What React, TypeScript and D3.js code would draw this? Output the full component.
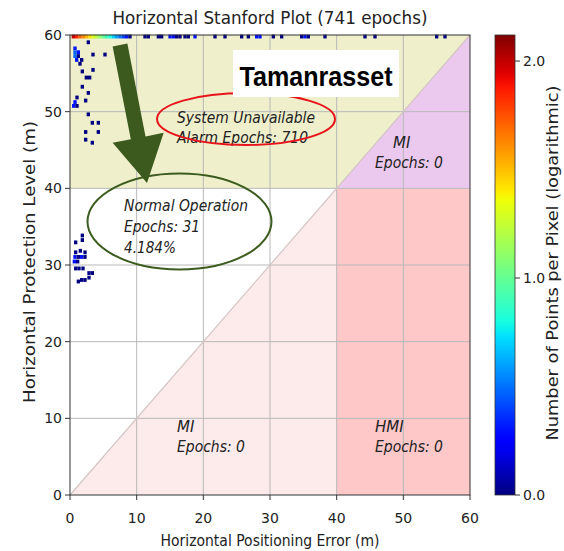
import React from "react";
import * as d3 from "d3";

// Axis ticks
const xTicks = [0, 10, 20, 30, 40, 50, 60];
const yTicks = [0, 10, 20, 30, 40, 50, 60];
const cbTicks = [0, 1, 2];
const cbMax = 2.12;
const binSize = 0.5;

// Histogram cells: [HPE bin start, HPL bin start, log10(count)]
// HPL clipped at the top of the plot
const topRowCells: [number, number, number][] = [
  [0.25, 59.55, 1.98], [0.75, 59.55, 1.85], [1.25, 59.55, 1.72], [1.75, 59.55, 1.62],
  [2.25, 59.55, 1.52], [2.75, 59.55, 1.42], [3.25, 59.55, 1.3], [3.75, 59.55, 1.2],
  [4.25, 59.55, 1.1], [4.75, 59.55, 1.0], [5.25, 59.55, 0.9], [5.75, 59.55, 0.8],
  [6.25, 59.55, 0.7], [6.75, 59.55, 0.6], [7.25, 59.55, 0.5], [7.75, 59.55, 0.4],
  [8.25, 59.55, 0.3], [8.75, 59.55, 0.0],
  [11.0, 59.55, 0.0], [11.5, 59.55, 0.0], [13.0, 59.55, 0.0], [13.5, 59.55, 0.0],
  [14.75, 59.55, 0.3], [15.25, 59.55, 0.3], [15.75, 59.55, 0.0], [16.25, 59.55, 0.0],
  [17.0, 59.55, 0.0], [17.5, 59.55, 0.0], [18.5, 59.55, 0.3],
  [21.5, 59.55, 0.0], [23.0, 59.55, 0.0], [25.5, 59.55, 0.0], [26.5, 59.55, 0.0],
  [27.75, 59.55, 0.3], [28.25, 59.55, 0.3], [30.25, 59.55, 0.0], [31.5, 59.55, 0.0],
  [34.5, 59.55, 0.0], [35.0, 59.55, 0.3], [35.5, 59.55, 0.0], [38.0, 59.55, 0.0],
  [44.0, 59.55, 0.0], [45.5, 59.55, 0.0], [54.75, 59.55, 0.0], [56.0, 59.55, 0.0],
];

// Alarm region cells (HPL above the alert limit)
const alarmCells: [number, number, number][] = [
  [0.5, 58.0, 0.3], [0.5, 57.5, 0.48], [1.0, 57.5, 0.3], [0.5, 57.0, 0.48],
  [1.0, 57.0, 0.0], [1.5, 56.5, 0.0], [0.75, 56.5, 0.3], [1.25, 56.0, 0.0],
  [2.5, 58.8, 0.0], [3.2, 57.2, 0.0], [5.0, 57.2, 0.0],
  [3.2, 55.2, 0.0], [1.6, 55.0, 0.0], [2.2, 54.2, 0.0], [2.7, 54.2, 0.0],
  [1.6, 53.0, 0.0], [2.5, 52.2, 0.0], [0.8, 51.6, 0.0], [2.1, 51.2, 0.0],
  [0.5, 51.0, 0.3], [0.3, 50.5, 0.3], [0.8, 50.5, 0.0],
  [2.5, 49.4, 0.0], [3.1, 48.3, 0.0], [4.0, 48.3, 0.0],
  [2.1, 47.1, 0.0], [4.0, 47.1, 0.0], [2.1, 46.1, 0.0], [3.1, 45.7, 0.0],
];

// Normal operation cells
const normalCells: [number, number, number][] = [
  [1.6, 33.6, 0.0], [1.6, 33.0, 0.0], [0.6, 32.7, 0.0],
  [1.3, 31.6, 0.0], [0.6, 31.4, 0.0], [2.0, 31.4, 0.0],
  [0.5, 30.8, 0.3], [1.0, 30.8, 0.0], [1.5, 30.8, 0.3], [2.0, 30.8, 0.0],
  [0.4, 30.2, 0.3], [0.9, 30.2, 0.0],
  [0.6, 29.3, 0.0], [1.1, 29.3, 0.0], [1.7, 29.3, 0.0],
  [2.6, 28.7, 0.0], [3.1, 28.7, 0.0],
  [1.5, 27.8, 0.0], [2.0, 27.8, 0.0], [2.6, 28.1, 0.0], [1.0, 27.6, 0.0],
];

// matplotlib "jet" colormap
function jet(t: number): string {
  const c = Math.max(0, Math.min(1, t));
  const interp = (pts: [number, number][]) => {
    for (let i = 1; i < pts.length; i++) {
      if (c <= pts[i][0]) {
        const [x0, y0] = pts[i - 1];
        const [x1, y1] = pts[i];
        return y0 + ((c - x0) / (x1 - x0)) * (y1 - y0);
      }
    }
    return pts[pts.length - 1][1];
  };
  const r = interp([[0, 0], [0.35, 0], [0.66, 1], [0.89, 1], [1, 0.5]]);
  const g = interp([[0, 0], [0.125, 0], [0.375, 1], [0.64, 1], [0.91, 0], [1, 0]]);
  const b = interp([[0, 0.5], [0.11, 1], [0.34, 1], [0.65, 0], [1, 0]]);
  return d3.rgb(r * 255, g * 255, b * 255).formatHex();
}

const W = 564;
const H = 551;
const x = d3.scaleLinear().domain([0, 60]).range([70, 470]);
const y = d3.scaleLinear().domain([0, 60]).range([495, 35]);
const cb = d3.scaleLinear().domain([0, cbMax]).range([495, 35]);
const color = (v: number) => jet(v / cbMax);

const font = "DejaVu Sans, sans-serif";
const textCol = "#222";

export default function App() {
  const allCells = [...topRowCells, ...alarmCells, ...normalCells];
  const poly = (pts: [number, number][]) =>
    pts.map(([a, b]) => `${x(a)},${y(b)}`).join(" ");
  const stops = d3.range(0, 1.0001, 0.02);

  // arrow geometry
  const ax0 = 120, ay0 = 45, ax1 = 147, ay1 = 183;
  const ang = Math.atan2(ay1 - ay0, ax1 - ax0);
  const headLen = 46, headW = 26, shaftW = 7.5;
  const ux = Math.cos(ang), uy = Math.sin(ang);
  const px = -uy, py = ux;
  const hbx = ax1 - ux * headLen, hby = ay1 - uy * headLen;
  const arrowPts: [number, number][] = [
    [ax0 + px * shaftW, ay0 + py * shaftW],
    [hbx + px * shaftW, hby + py * shaftW],
    [hbx + px * headW, hby + py * headW],
    [ax1, ay1],
    [hbx - px * headW, hby - py * headW],
    [hbx - px * shaftW, hby - py * shaftW],
    [ax0 - px * shaftW, ay0 - py * shaftW],
  ];

  return (
    <svg
      width={W}
      height={H}
      style={{ position: "absolute", left: 0, top: 0, background: "#fff" }}
      fontFamily={font}
    >
      <defs>
        <linearGradient id="jetGrad" x1="0" y1="1" x2="0" y2="0">
          {stops.map((s) => (
            <stop key={s} offset={s} stopColor={jet(s)} />
          ))}
        </linearGradient>
      </defs>

      {/* region backgrounds */}
      <polygon points={poly([[0, 40], [40, 40], [60, 60], [0, 60]])} fill="#efefcb" />
      <polygon points={poly([[40, 40], [60, 40], [60, 60]])} fill="#ebc9ef" />
      <polygon points={poly([[0, 0], [40, 0], [40, 40]])} fill="#fdebeb" />
      <rect x={x(40)} y={y(40)} width={x(60) - x(40)} height={y(0) - y(40)} fill="#fec8c9" />

      {/* grid */}
      {xTicks.slice(1, -1).map((t) => (
        <line key={"gx" + t} x1={x(t)} x2={x(t)} y1={y(0)} y2={y(60)} stroke="#b8b8b8" strokeWidth={1} />
      ))}
      {yTicks.slice(1, -1).map((t) => (
        <line key={"gy" + t} x1={x(0)} x2={x(60)} y1={y(t)} y2={y(t)} stroke="#b8b8b8" strokeWidth={1} />
      ))}
      <line x1={x(0)} y1={y(0)} x2={x(60)} y2={y(60)} stroke="#d4c4c4" strokeWidth={1.2} />

      {/* 2D histogram */}
      {allCells.map(([e, l, v], i) => (
        <rect
          key={"c" + i}
          x={x(e)}
          y={y(Math.min(l + binSize, 60.5))}
          width={x(e + binSize) - x(e)}
          height={y(l) - y(Math.min(l + binSize, 60.5))}
          fill={color(v)}
        />
      ))}

      {/* spines */}
      <rect x={x(0)} y={y(60)} width={x(60) - x(0)} height={y(0) - y(60)} fill="none" stroke="#333" strokeWidth={1} />

      {/* x axis */}
      {xTicks.map((t) => (
        <g key={"xt" + t}>
          <line x1={x(t)} x2={x(t)} y1={y(0)} y2={y(0) + 5} stroke="#333" />
          <text x={x(t)} y={523} textAnchor="middle" fontSize={14} fill={textCol}>
            {t}
          </text>
        </g>
      ))}
      <text x={270} y={546} textAnchor="middle" fontSize={15} fill={textCol} textLength={219} lengthAdjust="spacingAndGlyphs">
        Horizontal Positioning Error (m)
      </text>

      {/* y axis */}
      {yTicks.map((t) => (
        <g key={"yt" + t}>
          <line x1={x(0) - 5} x2={x(0)} y1={y(t)} y2={y(t)} stroke="#333" />
          <text x={62} y={y(t) + 5} textAnchor="end" fontSize={14} fill={textCol}>
            {t}
          </text>
        </g>
      ))}
      <text
        transform={`translate(35,262) rotate(-90)`}
        textAnchor="middle"
        fontSize={15}
        fill={textCol}
        textLength={282}
        lengthAdjust="spacingAndGlyphs"
      >
        Horizontal Protection Level (m)
      </text>

      {/* title */}
      <text x={270} y={24} textAnchor="middle" fontSize={17} fill={textCol} textLength={315} lengthAdjust="spacingAndGlyphs">
        Horizontal Stanford Plot (741 epochs)
      </text>

      {/* colorbar */}
      <rect x={495} y={cb(cbMax)} width={20} height={cb(0) - cb(cbMax)} fill="url(#jetGrad)" stroke="#333" strokeWidth={0.8} />
      {cbTicks.map((t) => (
        <g key={"cb" + t}>
          <line x1={515} x2={520} y1={cb(t)} y2={cb(t)} stroke="#333" />
          <text x={523} y={cb(t) + 5} fontSize={14} fill={textCol}>
            {t.toFixed(1)}
          </text>
        </g>
      ))}
      <text
        transform={`translate(558,263) rotate(-90)`}
        textAnchor="middle"
        fontSize={15}
        fill={textCol}
        textLength={355}
        lengthAdjust="spacingAndGlyphs"
      >
        Number of Points per Pixel (logarithmic)
      </text>

      {/* region annotations */}
      <g fontStyle="italic" fontSize={15} fill={textCol}>
        <text x={393} y={148}>MI</text>
        <text x={375} y={168} textLength={68} lengthAdjust="spacingAndGlyphs">Epochs: 0</text>
        <text x={177} y={432}>MI</text>
        <text x={177} y={452} textLength={68} lengthAdjust="spacingAndGlyphs">Epochs: 0</text>
        <text x={375} y={432}>HMI</text>
        <text x={375} y={452} textLength={68} lengthAdjust="spacingAndGlyphs">Epochs: 0</text>
        <text x={177} y={123} textLength={138} lengthAdjust="spacingAndGlyphs">System Unavailable</text>
        <text x={177} y={143} textLength={131} lengthAdjust="spacingAndGlyphs">Alarm Epochs: 710</text>
        <text x={124} y={211} textLength={124} lengthAdjust="spacingAndGlyphs">Normal Operation</text>
        <text x={124} y={232} textLength={76} lengthAdjust="spacingAndGlyphs">Epochs: 31</text>
        <text x={124} y={253} textLength={52} lengthAdjust="spacingAndGlyphs">4.184%</text>
      </g>

      {/* callouts */}
      <ellipse cx={246} cy={119} rx={89} ry={26} fill="none" stroke="#e8141c" strokeWidth={2} />
      <ellipse cx={179.5} cy={221.5} rx={92} ry={48} fill="none" stroke="#3d5c1f" strokeWidth={2} />
      <polygon points={arrowPts.map((p) => p.join(",")).join(" ")} fill="#3d5a1e" />

      {/* station label */}
      <rect x={233} y={50} width={166} height={47} fill="#fff" />
      <text x={316} y={86} textAnchor="middle" fontSize={28} fontWeight="bold" fontFamily="Liberation Sans, Arial, sans-serif" fill="#000" textLength={153} lengthAdjust="spacingAndGlyphs">
        Tamanrasset
      </text>
    </svg>
  );
}
